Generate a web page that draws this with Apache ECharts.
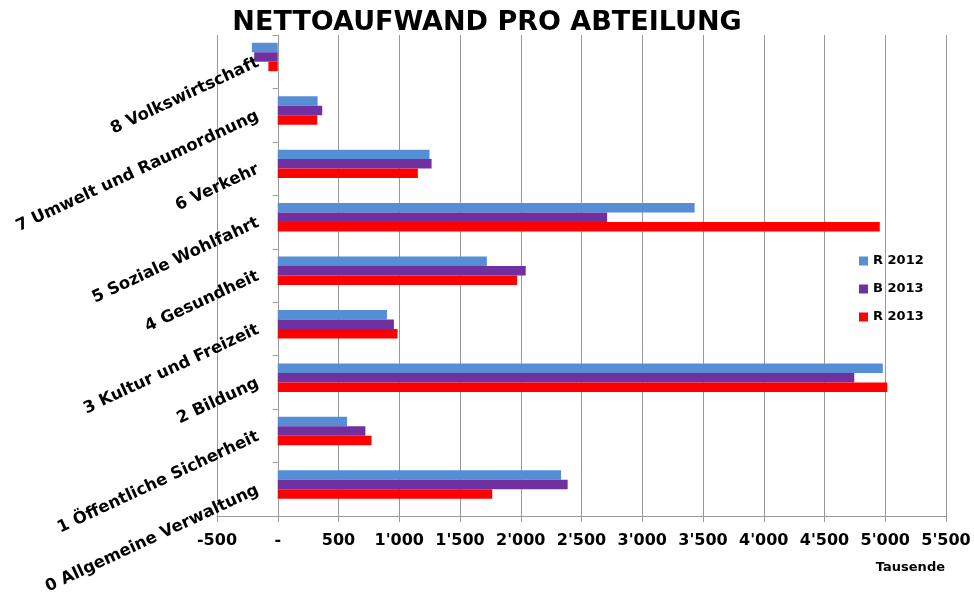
<!DOCTYPE html>
<html>
<head>
<meta charset="utf-8">
<title>Nettoaufwand pro Abteilung</title>
<script src="https://cdn.jsdelivr.net/npm/echarts@6/dist/echarts.min.js"></script>
<style>
    html, body { margin: 0; padding: 0; background: #fff; }
    #main { width: 974px; height: 599px; }
</style>
</head>
<body>
<div id="main"></div>
<script>
// Kategorien (von unten nach oben)
var categories = ['0 Allgemeine Verwaltung', '1 Öffentliche Sicherheit', '2 Bildung', '3 Kultur und Freizeit',
    '4 Gesundheit', '5 Soziale Wohlfahrt', '6 Verkehr', '7 Umwelt und Raumordnung', '8 Volkswirtschaft'];
// Werte in Tausend
var r2012 = [2332, 570, 4980, 899, 1721, 3431, 1249, 328, -213];
var b2013 = [2386, 721, 4745, 956, 2041, 2711, 1266, 366, -194];
var r2013 = [1765, 772, 5017, 986, 1970, 4955, 1153, 325, -77];
// leerer Platz unten in jeder Gruppe (wie im Original)
var emptySlot = [null, null, null, null, null, null, null, null, null];
var legendNames = ['R 2012', 'B 2013', 'R 2013'];
var axisMin = -500, axisMax = 5500, axisStep = 500;

var fontFam = 'DejaVu Sans';

function fmtTick(v) {
    if (v === 0) return '-';
    var s = String(Math.abs(v));
    s = s.replace(/\B(?=(\d{3})+(?!\d))/g, "'");
    return (v < 0 ? '-' : '') + s;
}

var myChart = echarts.init(document.getElementById('main'));
var option = {
    backgroundColor: '#fff',
    animation: false,
    title: {
        text: 'NETTOAUFWAND PRO ABTEILUNG',
        left: 'center',
        top: 4,
        textStyle: { fontFamily: fontFam, fontSize: 27, fontWeight: 'bold', color: '#000' }
    },
    legend: {
        orient: 'vertical',
        left: 854,
        top: 249,
        data: legendNames,
        itemWidth: 9,
        itemHeight: 9,
        itemGap: 14,
        icon: 'rect',
        textStyle: { fontFamily: fontFam, fontSize: 13, fontWeight: 'bold', color: '#000', lineHeight: 14 }
    },
    graphic: [{
        type: 'text',
        right: 29,
        top: 561,
        style: { text: 'Tausende', font: 'bold 13px "DejaVu Sans"', fill: '#000' }
    }],
    grid: { left: 217, right: 28, top: 35, bottom: 83, containLabel: false, outerBoundsMode: 'none' },
    xAxis: {
        type: 'value',
        min: axisMin,
        max: axisMax,
        interval: axisStep,
        axisLine: { show: true, lineStyle: { color: '#999', width: 1 } },
        axisTick: { show: true, length: 6, lineStyle: { color: '#999' } },
        splitLine: { show: true, lineStyle: { color: '#999', width: 1 } },
        axisLabel: {
            margin: 17,
            fontFamily: fontFam, fontSize: 16, fontWeight: 'bold', color: '#000',
            formatter: fmtTick
        }
    },
    yAxis: {
        type: 'category',
        data: categories,
        axisLine: { show: true, onZero: true, lineStyle: { color: '#999', width: 1 } },
        axisTick: { show: true, length: 5, interval: 0, lineStyle: { color: '#999' } },
        axisLabel: {
            interval: 0,
            rotate: 25,
            margin: -41,
            fontFamily: fontFam, fontSize: 16.5, fontWeight: 'bold', color: '#000'
        }
    },
    series: [
        { name: 'R 2012', type: 'bar', data: r2012, itemStyle: { color: '#558ED5' }, barGap: '0%', barCategoryGap: '29%' },
        { name: 'B 2013', type: 'bar', data: b2013, itemStyle: { color: '#7030A0' } },
        { name: 'R 2013', type: 'bar', data: r2013, itemStyle: { color: '#FF0000' } },
        { name: 'leer', type: 'bar', data: emptySlot }
    ]
};
myChart.setOption(option, true);
</script>
</body>
</html>
